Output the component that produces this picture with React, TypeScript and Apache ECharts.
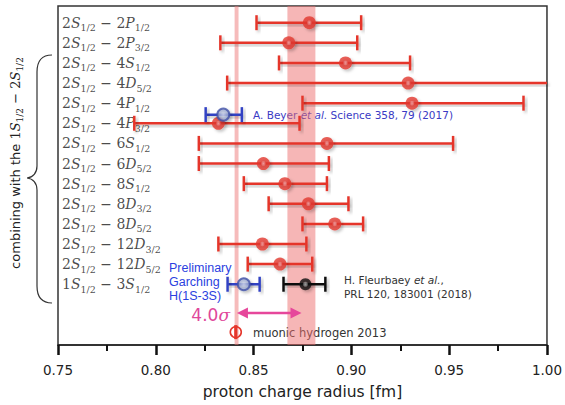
import React, { useEffect, useRef } from "react";
import * as echarts from "echarts";

// ---------- data ----------
const rowLabels = [
  "2S_{1/2} − 2P_{1/2}",
  "2S_{1/2} − 2P_{3/2}",
  "2S_{1/2} − 4S_{1/2}",
  "2S_{1/2} − 4D_{5/2}",
  "2S_{1/2} − 4P_{1/2}",
  "2S_{1/2} − 4P_{3/2}",
  "2S_{1/2} − 6S_{1/2}",
  "2S_{1/2} − 6D_{5/2}",
  "2S_{1/2} − 8S_{1/2}",
  "2S_{1/2} − 8D_{3/2}",
  "2S_{1/2} − 8D_{5/2}",
  "2S_{1/2} − 12D_{3/2}",
  "2S_{1/2} − 12D_{5/2}",
  "1S_{1/2} − 3S_{1/2}",
];
const rowIndex = [1, 2, 3, 4, 5, 6, 7, 8, 9, 10, 11, 12, 13, 14];

const redRows = [1, 2, 3, 4, 5, 6, 7, 8, 9, 10, 11, 12, 13];
const redCenter = [0.8785, 0.868, 0.897, 0.929, 0.931, 0.832, 0.8875, 0.855, 0.866, 0.878, 0.8915, 0.8545, 0.8635];
const redLow = [0.8515, 0.833, 0.863, 0.8365, 0.875, 0.789, 0.822, 0.822, 0.845, 0.8577, 0.875, 0.832, 0.847];
const redHigh = [0.905, 0.903, 0.930, 1.021, 0.988, 0.8735, 0.952, 0.8885, 0.8875, 0.8985, 0.906, 0.877, 0.880];

const beyer = { center: 0.8345, low: 0.8255, high: 0.844, row: 5.57 };
const garching = { center: 0.845, low: 0.8367, high: 0.8531, row: 14 };
const fleurbaey = { center: 0.8765, low: 0.8653, high: 0.8867, row: 14 };
const muonic = { center: 0.8409, row: 16.38 };
const sigmaArrow = { from: 0.8415, to: 0.8745, row: 15.43 };

const codataBand = [0.8673, 0.8816];
const muonicBand = [0.8403, 0.8423];

const xTicks = { min: 0.75, max: 1.0, step: 0.05 };
const yRange = { min: 0.17, max: 17.02 };

// ---------- helpers ----------
const SERIF = "DejaVu Serif";
const SANS = "DejaVu Sans";

function mathRich(str: string) {
  const re = /(\d+)([SPD])_\{([^}]+)\}/g;
  const parts: string[] = [];
  let m: RegExpExecArray | null;
  while ((m = re.exec(str)) !== null) {
    parts.push(`{n|${m[1]}}{i|${m[2]}}{s|${m[3]}}`);
  }
  return parts.join("{n| − }");
}

const mathStyles = (size: number, subSize: number, color: string) => ({
  n: { fontFamily: SERIF, fontSize: size, color, fill: color, lineHeight: size, verticalAlign: "top" },
  i: { fontFamily: SERIF, fontSize: size, fontStyle: "italic", color, fill: color, lineHeight: size, verticalAlign: "top" },
  s: { fontFamily: SERIF, fontSize: subSize, color, fill: color, lineHeight: size + 10 },
});

const shadow = { shadowColor: "rgba(0,0,0,0.28)", shadowBlur: 3, shadowOffsetX: 2, shadowOffsetY: 2 };

function errorBar(color: string, lw: number, capHalf: number) {
  return (params: any, api: any) => {
    const lo = api.value(0);
    const hi = api.value(1);
    const y = api.value(2);
    const cs = params.coordSys;
    const pLo = api.coord([lo, y]);
    const pHi = api.coord([hi, y]);
    const xmin = cs.x;
    const xmax = cs.x + cs.width;
    const xa = Math.max(pLo[0], xmin);
    const xb = Math.min(pHi[0], xmax);
    const h = lw / 2;
    const mk = () => ({
      fill: color,
      shadowColor: "rgba(0,0,0,0.25)",
      shadowBlur: 3,
      shadowOffsetX: 2,
      shadowOffsetY: 2,
    });
    const yy = pLo[1];
    const children: any[] = [
      { type: "rect", shape: { x: xa, y: yy - h, width: xb - xa, height: lw }, style: mk() },
    ];
    if (pLo[0] >= xmin - 0.5)
      children.push({ type: "rect", shape: { x: pLo[0] - h, y: yy - capHalf, width: lw, height: capHalf * 2 }, style: mk() });
    if (pHi[0] <= xmax + 0.5)
      children.push({ type: "rect", shape: { x: pHi[0] - h, y: yy - capHalf, width: lw, height: capHalf * 2 }, style: mk() });
    return { type: "group", children };
  };
}

const radial = (stops: [number, string][]) =>
  new echarts.graphic.RadialGradient(0.5, 0.5, 0.5, stops.map(([offset, color]) => ({ offset, color })));

export default function App() {
  const ref = useRef<HTMLDivElement>(null);

  useEffect(() => {
    if (!ref.current) return;
    try {
      echarts.graphic.registerShape(
        "brace",
        echarts.graphic.extendPath(
          "M52,55 C42,55 37,60 37,72 L37,166 C37,173 33,177.5 27,178 C33,178.5 37,183 37,190 L37,286 C37,298 42,303 52,303",
          {}
        )
      );
    } catch (e) {}
    const chart = echarts.init(ref.current, undefined, { renderer: "svg" });

    const redColor = "#e5362b";
    const blueColor = "#3343c4";

    const option: any = {
      animation: false,
      backgroundColor: "#ffffff",
      grid: { left: 58, right: 17, top: 6, bottom: 59, show: true, borderColor: "#333", borderWidth: 1.5 },
      xAxis: {
        type: "value",
        min: xTicks.min,
        max: xTicks.max,
        interval: xTicks.step,
        axisLine: { show: true, lineStyle: { color: "#222", width: 1.5 } },
        axisTick: { show: true, length: 10, lineStyle: { color: "#111", width: 2.5 } },
        minorTick: { show: true, splitNumber: 2, length: 6, lineStyle: { color: "#111", width: 2 } },
        splitLine: { show: false },
        minorSplitLine: { show: false },
        axisLabel: {
          formatter: (v: number) => v.toFixed(2),
          margin: 18,
          fontSize: 13.5,
          color: "#222",
          fontFamily: SANS,
        },
        name: "proton charge radius [fm]",
        nameLocation: "middle",
        nameGap: 39,
        nameTextStyle: { fontSize: 15.5, color: "#222", fontFamily: SANS },
      },
      yAxis: {
        type: "value",
        min: yRange.min,
        max: yRange.max,
        inverse: true,
        show: false,
        splitLine: { show: false },
      },
      series: [
        {
          type: "custom",
          name: "bands",
          data: [
            [codataBand[0], codataBand[1], 0],
            [muonicBand[0], muonicBand[1], 1],
          ],
          renderItem: (params: any, api: any) => {
            const cs = params.coordSys;
            const a = api.coord([api.value(0), yRange.min]);
            const b = api.coord([api.value(1), yRange.min]);
            const kind = api.value(2);
            return {
              type: "rect",
              shape: { x: a[0], y: cs.y, width: b[0] - a[0], height: cs.height },
              style: { fill: kind === 0 ? "rgba(238,110,110,0.5)" : "rgba(238,120,120,0.5)" },
            };
          },
          z: 1,
        },
        {
          type: "custom",
          name: "red bars",
          data: redRows.map((r, i) => [redLow[i], redHigh[i], r]),
          renderItem: errorBar(redColor, 2.5, 7.5),
          z: 3,
        },
        {
          type: "scatter",
          name: "red points",
          data: redRows.map((r, i) => [redCenter[i], r]),
          symbol: "circle",
          symbolSize: 13,
          itemStyle: {
            color: radial([
              [0, "#f2b4b4"],
              [0.22, "#ea7a7a"],
              [0.42, "#e2382e"],
              [1, "#e2382e"],
            ]),
            ...shadow,
          },
          z: 4,
        },
        {
          type: "custom",
          name: "blue bars",
          data: [
            [beyer.low, beyer.high, beyer.row],
            [garching.low, garching.high, garching.row],
          ],
          renderItem: errorBar(blueColor, 2.5, 7.5),
          z: 5,
        },
        {
          type: "scatter",
          name: "blue points",
          data: [
            [beyer.center, beyer.row],
            [garching.center, garching.row],
          ],
          symbolSize: 12,
          itemStyle: {
            color: radial([
              [0, "#dde3f2"],
              [0.6, "#a9b4d6"],
              [1, "#95a1cc"],
            ]),
            borderColor: "#4050a8",
            borderWidth: 2,
            ...shadow,
          },
          z: 6,
        },
        {
          type: "custom",
          name: "black bar",
          data: [[fleurbaey.low, fleurbaey.high, fleurbaey.row]],
          renderItem: errorBar("#111", 2.5, 7.5),
          z: 5,
        },
        {
          type: "scatter",
          name: "black point",
          data: [[fleurbaey.center, fleurbaey.row]],
          symbolSize: 12,
          itemStyle: {
            color: radial([
              [0, "#bdbdbd"],
              [0.3, "#777"],
              [0.5, "#111"],
              [1, "#111"],
            ]),
            ...shadow,
          },
          z: 6,
        },
        {
          type: "custom",
          name: "muonic",
          data: [[muonic.center, muonic.row]],
          renderItem: (params: any, api: any) => {
            const p = api.coord([api.value(0), api.value(1)]);
            return {
              type: "group",
              children: [
                { type: "circle", shape: { cx: p[0], cy: p[1], r: 5.5 }, style: { fill: "none", stroke: redColor, lineWidth: 1.6 } },
                { type: "rect", shape: { x: p[0] - 1.6, y: p[1] - 7, width: 3.2, height: 14 }, style: { fill: redColor } },
              ],
            };
          },
          z: 6,
        },
        {
          type: "custom",
          name: "sigma arrow",
          data: [[sigmaArrow.from, sigmaArrow.to, sigmaArrow.row]],
          renderItem: (params: any, api: any) => {
            const a = api.coord([api.value(0), api.value(2)]);
            const b = api.coord([api.value(1), api.value(2)]);
            const c = "#e6479b";
            const hl = 11;
            const hw = 5.5;
            return {
              type: "group",
              children: [
                { type: "line", shape: { x1: a[0] + hl - 2, y1: a[1], x2: b[0] - hl + 2, y2: b[1] }, style: { stroke: c, lineWidth: 2.6 } },
                { type: "polygon", shape: { points: [[a[0], a[1]], [a[0] + hl, a[1] - hw], [a[0] + hl, a[1] + hw]] }, style: { fill: c } },
                { type: "polygon", shape: { points: [[b[0], b[1]], [b[0] - hl, b[1] - hw], [b[0] - hl, b[1] + hw]] }, style: { fill: c } },
              ],
            };
          },
          z: 6,
        },
        {
          type: "scatter",
          name: "row labels",
          data: rowIndex.map((r) => [xTicks.min, r]),
          symbolSize: 0,
          silent: true,
          label: {
            show: true,
            position: "right",
            distance: 4,
            offset: [0, 5],
            formatter: (p: any) => mathRich(rowLabels[p.dataIndex]),
            rich: mathStyles(14, 9.5, "#1a1a1a"),
          },
          z: 2,
        },
      ],
      graphic: [
        {
          type: "brace",
          x: 0,
          y: 0,
          style: { fill: "none", stroke: "#333", lineWidth: 1.2 },
          silent: true,
        },
        {
          type: "text",
          x: 20,
          y: 163,
          rotation: Math.PI / 2,
          style: {
            text: "{a|combining with the }" + mathRich("1S_{1/2} − 2S_{1/2}"),
            align: "center",
            verticalAlign: "middle",
            rich: {
              a: { fontFamily: SANS, fontSize: 13, fill: "#222", lineHeight: 13, verticalAlign: "top" },
              ...mathStyles(13, 9, "#222"),
            },
          },
        },
        {
          type: "text",
          x: 253,
          y: 115,
          style: {
            text: "{b|A. Beyer }{bi|et al.}{b| Science 358, 79 (2017)}",
            align: "left",
            verticalAlign: "middle",
            rich: {
              b: { fontFamily: SANS, fontSize: 10.5, fill: "#3a3ac4" },
              bi: { fontFamily: SANS, fontSize: 10.5, fill: "#3a3ac4", fontStyle: "italic" },
            },
          },
        },
        {
          type: "text",
          x: 169,
          y: 261,
          style: {
            text: "Preliminary\nGarching\nH(1S-3S)",
            align: "left",
            verticalAlign: "top",
            fontFamily: "Liberation Sans",
            fontSize: 12.5,
            lineHeight: 14,
            fill: "#2b3fe0",
          },
        },
        {
          type: "text",
          x: 344,
          y: 273,
          style: {
            text: "{f|H. Fleurbaey }{fi|et al.}{f|,}\n{f|PRL 120, 183001 (2018)}",
            align: "left",
            verticalAlign: "top",
            rich: {
              f: { fontFamily: SANS, fontSize: 10.5, fill: "#333", lineHeight: 14 },
              fi: { fontFamily: SANS, fontSize: 10.5, fill: "#333", fontStyle: "italic", lineHeight: 14 },
            },
          },
        },
        {
          type: "text",
          x: 253,
          y: 333,
          style: {
            text: "muonic hydrogen 2013",
            align: "left",
            verticalAlign: "middle",
            fontFamily: SANS,
            fontSize: 11.5,
            fill: "#333",
          },
        },
        {
          type: "text",
          x: 230,
          y: 315,
          style: {
            text: "{a|4.0}{b|σ}",
            align: "right",
            verticalAlign: "middle",
            rich: {
              a: { fontFamily: SANS, fontSize: 17, fill: "#e0479a" },
              b: { fontFamily: SERIF, fontSize: 17, fill: "#e0479a", fontStyle: "italic" },
            },
          },
        },
      ],
    };

    chart.setOption(option);
    return () => chart.dispose();
  }, []);

  return (
    <div
      ref={ref}
      style={{ position: "fixed", left: 0, top: 0, width: 565, height: 405, background: "#fff" }}
    />
  );
}
